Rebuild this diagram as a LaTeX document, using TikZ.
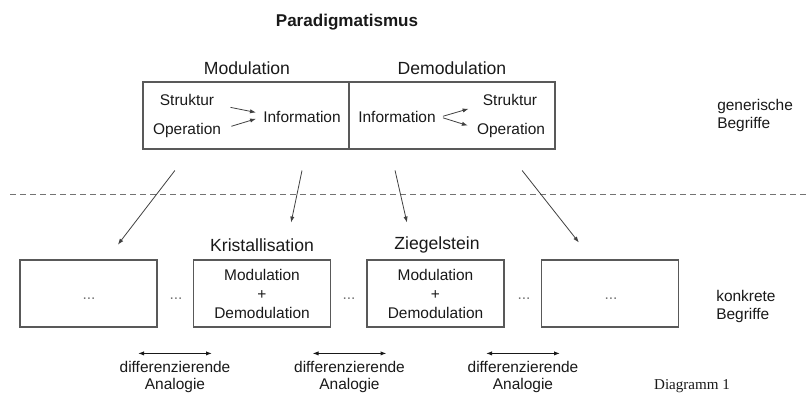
\documentclass[tikz,border=0pt]{standalone}
\usepackage{fontspec}
\setmainfont{Liberation Sans}
\newfontfamily\diagserif{Liberation Serif}
\usetikzlibrary{positioning,arrows.meta,calc}

\begin{document}
\begin{tikzpicture}[
  x=0.75pt,y=-0.75pt,
  every node/.style={font=\fontsize{11.6}{14}\selectfont,text=black!90},
  head/.style={font=\fontsize{13.2}{15}\selectfont},
  half/.style={draw=black!65,line width=0.8pt,minimum width=154.5pt,minimum height=50.25pt},
  concept/.style={draw=black!65,line width=0.8pt,align=center,minimum width=102.75pt,minimum height=50.25pt,font=\fontsize{11.6}{14.25}\selectfont},
  gap/.style={text=black!55},
  side/.style={anchor=west,align=left,inner sep=0pt,font=\fontsize{11.6}{13.5}\selectfont},
  link/.style={-{Latex[length=4.5pt,width=3.2pt]},line width=0.6pt,black!75},
  analog/.style={{Latex[length=4.5pt,width=3.2pt]}-{Latex[length=4.5pt,width=3.2pt]},line width=0.75pt,black!90}
]
  \useasboundingbox (0,0) rectangle (806,394);

  \node[font=\fontsize{12.8}{15}\selectfont\bfseries] (title) at (347,22) {Paradigmatismus};

  % generic level
  \node[half] (mod)   at (246,115.5) {};
  \node[half] (demod) at (452,115.5) {};
  \node[head] (modt)   at (247,68) {Modulation};
  \node[head] (demodt) at (452,68) {Demodulation};
  \node (sl) at (187,100) {Struktur};
  \node (ol) at (187,130) {Operation};
  \node (il) at (302,117) {Information};
  \node (ir) at (397,117) {Information};
  \node (sr) at (510,100) {Struktur};
  \node (or) at (511,130) {Operation};
  \draw[link,shorten <=9pt,shorten >=2pt]   ([yshift=-3.75pt]sl.east) -- ([yshift=3pt]il.west);
  \draw[link,shorten <=4.5pt,shorten >=2pt] ([yshift=1.5pt]ol.east) -- ([yshift=-0.75pt]il.west);
  \draw[link,shorten <=2pt,shorten >=7.5pt] (ir.east) -- ([yshift=-4.5pt]sr.west);
  \draw[link,shorten <=2pt,shorten >=3.5pt] (ir.east) -- ([yshift=2.25pt]or.west);
  \node[side] (gen) at (717,115) {generische\\Begriffe};

  \draw[black!55,line width=0.7pt,dash pattern=on 4.5pt off 3pt] (10,194) -- (806,194);

  % concrete level
  \node[concept] (b1) at (88.5,293.5)  {};
  \node[concept] (b2) at (262,293.5)   {Modulation\\+\\Demodulation};
  \node[concept] (b3) at (435.5,293.5) {Modulation\\+\\Demodulation};
  \node[concept] (b4) at (610,293.5)   {};
  \node[head] (kris) at (262,245) {Kristallisation};
  \node[head] (zieg) at (437,245) {Ziegelstein};
  \foreach \x/\n in {89/d0,176/d1,349/d2,524/d3,611/d4} \node[gap] (\n) at (\x,299) {...};
  \node[side] (kon) at (716,306.5) {konkrete\\Begriffe};

  \draw[link,shorten <=19.8pt,shorten >=14pt]   ([xshift=-41.25pt]mod.south) -- ([xshift=13.5pt]b1.north);
  \draw[link,shorten <=16.1pt,shorten >=28.3pt] ([xshift=45.3pt]mod.south) -- ([xshift=16pt]b2.north);
  \draw[link,shorten <=16.1pt,shorten >=28.4pt] ([xshift=-46.3pt]demod.south) -- ([xshift=-15.1pt]b3.north);
  \draw[link,shorten <=20pt,shorten >=16.2pt]   ([xshift=40.2pt]demod.south) -- ([xshift=-13.3pt]b4.north);

  % analogies
  \foreach \x/\n in {175/a1,349.5/a2,523/a3} {
    \node[align=center,font=\fontsize{11.6}{12.3}\selectfont] (\n) at (\x,377) {differenzierende\\Analogie};
    \draw[analog] ([shift={(-27.75pt,2.6pt)}]\n.north) -- ([shift={(27.75pt,2.6pt)}]\n.north);
  }
  \node[font=\diagserif\fontsize{11.3}{13}\selectfont] (diag) at (692,386) {Diagramm 1};
\end{tikzpicture}
\end{document}
